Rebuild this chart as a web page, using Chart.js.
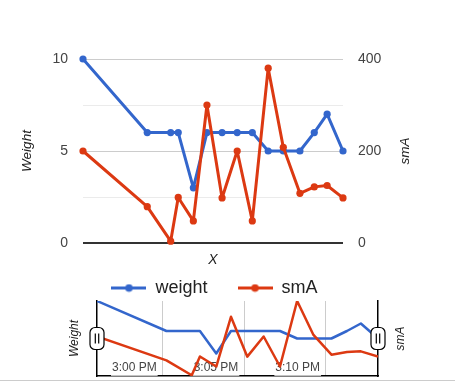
<!DOCTYPE html>
<html>
<head>
<meta charset="utf-8">
<script src="https://cdn.jsdelivr.net/npm/chart.js@4.4.0/dist/chart.umd.min.js"></script>
<style>
  html, body { margin: 0; padding: 0; background: #fff; }
  #wrap { position: relative; width: 455px; height: 382px; overflow: hidden; }
  #main { position: absolute; left: 0; top: 0; }
  #range { position: absolute; left: 0; top: 245px; }
</style>
</head>
<body>
<div id="wrap">
  <canvas id="main" width="455" height="270"></canvas>
  <canvas id="range" width="455" height="137"></canvas>
</div>
<script>
const times = ["14:59:05", "15:03:20", "15:04:53", "15:05:23", "15:06:23", "15:07:17", "15:08:17", "15:09:17",
  "15:10:17", "15:11:20", "15:12:20", "15:13:26", "15:14:23", "15:15:14", "15:16:17"]
const weight = [10, 6, 6, 6, 3, 6, 6, 6, 6, 5, 5, 5, 6, 7, 5]
const smA = [200, 79, 4, 99, 48, 300, 98, 200, 48, 380, 208, 108, 122, 125, 98]
const weightTicks = [0, 5, 10]
const smATicks = [0, 200, 400]
const timeTicks = ["3:00 PM", "3:05 PM", "3:10 PM"]
const gridTimes = ["15:03:05", "15:08:05", "15:13:05"]

const BLUE = "#3366cc"
const RED = "#dc3912"
const FONT = "Arial, 'Liberation Sans', sans-serif"
Chart.defaults.font.family = FONT
Chart.defaults.color = "#444"

// minutes relative to 3:00 PM
function toMin(t) {
  const pm = /PM/.test(t)
  const p = t.replace(/ ?[AP]M/, "").split(":").map(Number)
  const h = p[0] + (pm && p[0] < 12 ? 12 : 0)
  return h * 60 + p[1] + (p[2] || 0) / 60 - 900
}

const xs = times.map(toMin)
const xMin = xs[0]
const xMax = xs[xs.length - 1]
const points = (arr) => arr.map((v, i) => ({ x: xs[i], y: v }))

function sideTitles(list) {
  return {
    id: "sideTitles",
    afterDraw(chart) {
      const ctx = chart.ctx
      const a = chart.chartArea
      list.forEach((t) => {
        ctx.save()
        ctx.translate(t.x, (a.top + a.bottom) / 2)
        ctx.rotate(-Math.PI / 2)
        ctx.font = "italic " + t.size + "px " + FONT
        ctx.fillStyle = "#222"
        ctx.textAlign = "center"
        ctx.textBaseline = "middle"
        ctx.fillText(t.text, 0, 0)
        ctx.restore()
      })
    }
  }
}

function legendIcon(color) {
  const c = document.createElement("canvas")
  c.width = 35
  c.height = 9
  const g = c.getContext("2d")
  g.strokeStyle = color
  g.lineWidth = 3
  g.beginPath()
  g.moveTo(0, 4.5)
  g.lineTo(35, 4.5)
  g.stroke()
  g.fillStyle = color
  g.beginPath()
  g.arc(17.5, 4.5, 3.8, 0, Math.PI * 2)
  g.fill()
  return c
}

// main chart
new Chart(document.getElementById("main"), {
  type: "line",
  data: {
    datasets: [
      { label: "weight", data: points(weight), yAxisID: "y", order: 2, borderJoinStyle: "round",
        borderColor: BLUE, backgroundColor: BLUE, borderWidth: 3, pointRadius: 3.6, pointBorderWidth: 0, clip: false },
      { label: "smA", data: points(smA), yAxisID: "y1", order: 1, borderJoinStyle: "round",
        borderColor: RED, backgroundColor: RED, borderWidth: 3, pointRadius: 3.6, pointBorderWidth: 0, clip: false }
    ]
  },
  options: {
    responsive: false,
    animation: false,
    layout: { padding: { top: 59, left: 0, right: 0, bottom: 0 } },
    plugins: { legend: { display: false }, tooltip: { enabled: false } },
    scales: {
      x: {
        type: "linear", min: xMin, max: xMax,
        ticks: { display: false },
        grid: { display: false },
        border: { display: false },
        title: { display: true, text: "X", color: "#222", font: { size: 14, style: "italic" }, padding: { top: 0, bottom: 1.6 } },
        afterFit: (s) => { s.height = 27 }
      },
      y: {
        position: "left", min: 0, max: 10,
        afterBuildTicks: (s) => { s.ticks = [0, 2.5, 5, 7.5, 10].map((v) => ({ value: v })) },
        ticks: { padding: 15, color: "#444", font: { size: 14 },
          callback: (v) => weightTicks.includes(v) ? String(v) : "" },
        grid: {
          drawTicks: false,
          color: (c) => c.tick.value === 0 ? "#333" : (weightTicks.includes(c.tick.value) ? "#cccccc" : "#ebebeb"),
          lineWidth: (c) => c.tick.value === 0 ? 2 : 1
        },
        border: { display: false },
        afterFit: (s) => { s.width = 83 }
      },
      y1: {
        position: "right", min: 0, max: 400,
        afterBuildTicks: (s) => { s.ticks = smATicks.map((v) => ({ value: v })) },
        ticks: { padding: 15, color: "#444", font: { size: 14 } },
        grid: { display: false, drawTicks: false },
        border: { display: false },
        afterFit: (s) => { s.width = 112 }
      }
    }
  },
  plugins: [sideTitles([{ text: "Weight", x: 27.5, size: 13.5 }, { text: "smA", x: 405, size: 13.5 }])]
})

// range filter chart
const rangeDecor = {
  id: "rangeDecor",
  afterDraw(chart) {
    const { ctx, chartArea: a } = chart
    ctx.save()
    ctx.strokeStyle = "#cccccc"
    ctx.lineWidth = 1
    ctx.beginPath()
    ctx.moveTo(0, 135.5)
    ctx.lineTo(455, 135.5)
    ctx.stroke()
    const midY = (a.top + a.bottom) / 2
    ;[a.left, a.right].forEach((x) => {
      ctx.fillStyle = "#fff"
      ctx.strokeStyle = "#000"
      ctx.lineWidth = 1.2
      ctx.beginPath()
      ctx.roundRect(x - 7, midY - 11, 14, 22, 5)
      ctx.fill()
      ctx.stroke()
      ctx.beginPath()
      ctx.moveTo(x - 1.7, midY - 5)
      ctx.lineTo(x - 1.7, midY + 5)
      ctx.moveTo(x + 1.7, midY - 5)
      ctx.lineTo(x + 1.7, midY + 5)
      ctx.stroke()
    })
    ctx.restore()
  }
}

new Chart(document.getElementById("range"), {
  type: "line",
  data: {
    datasets: [
      { label: "weight", data: points(weight), yAxisID: "y", order: 2, borderJoinStyle: "round",
        borderColor: BLUE, backgroundColor: BLUE, borderWidth: 2.5, pointRadius: 0 },
      { label: "smA", data: points(smA), yAxisID: "y1", order: 1, borderJoinStyle: "round",
        borderColor: RED, backgroundColor: RED, borderWidth: 2.5, pointRadius: 0 }
    ]
  },
  options: {
    responsive: false,
    animation: false,
    layout: { padding: { top: 4, left: 0, right: 26, bottom: 6 } },
    plugins: {
      tooltip: { enabled: false },
      legend: {
        position: "top",
        align: "center",
        maxHeight: 52,
        labels: {
          usePointStyle: true,
          pointStyleWidth: 35,
          padding: 30,
          font: { size: 18 },
          color: "#222",
          generateLabels: (chart) => chart.data.datasets.map((d, i) => ({
            text: d.label, pointStyle: legendIcon(d.borderColor), datasetIndex: i,
            fontColor: "#222", lineWidth: 0, strokeStyle: "rgba(0,0,0,0)", fillStyle: "rgba(0,0,0,0)", hidden: false
          }))
        }
      }
    },
    scales: {
      x: {
        type: "linear", min: xMin, max: xMax,
        afterBuildTicks: (s) => { s.ticks = gridTimes.map((t) => ({ value: toMin(t) })) },
        ticks: { display: false },
        grid: { color: "#cccccc", drawTicks: false },
        border: { display: true, color: "#000", width: 1.5 },
        afterFit: (s) => { s.height = 0 }
      },
      xl: {
        type: "linear", axis: "x", position: { y: 0 }, min: xMin, max: xMax, z: 1,
        afterBuildTicks: (s) => { s.ticks = timeTicks.map((t) => ({ value: toMin(t) })) },
        ticks: {
          align: "start", autoSkip: false, maxRotation: 0, padding: -23.5,
          color: "#444", font: { size: 12 },
          showLabelBackdrop: true, backdropColor: "rgba(255,255,255,0.85)", backdropPadding: 1,
          callback: (v, i) => timeTicks[i]
        },
        grid: { display: false },
        border: { display: false }
      },
      y: {
        position: "left", min: 0, max: 10,
        ticks: { display: false },
        grid: { display: false },
        border: { display: true, color: "#000", width: 1.5 },
        afterFit: (s) => { s.width = 97 }
      },
      y1: {
        position: "right", min: 0, max: 380,
        ticks: { display: false },
        grid: { display: false },
        border: { display: true, color: "#000", width: 1.5 },
        afterFit: (s) => { s.width = 51 }
      }
    }
  },
  plugins: [rangeDecor, sideTitles([{ text: "Weight", x: 75, size: 12 }, { text: "smA", x: 401, size: 12 }])]
})
</script>
</body>
</html>
